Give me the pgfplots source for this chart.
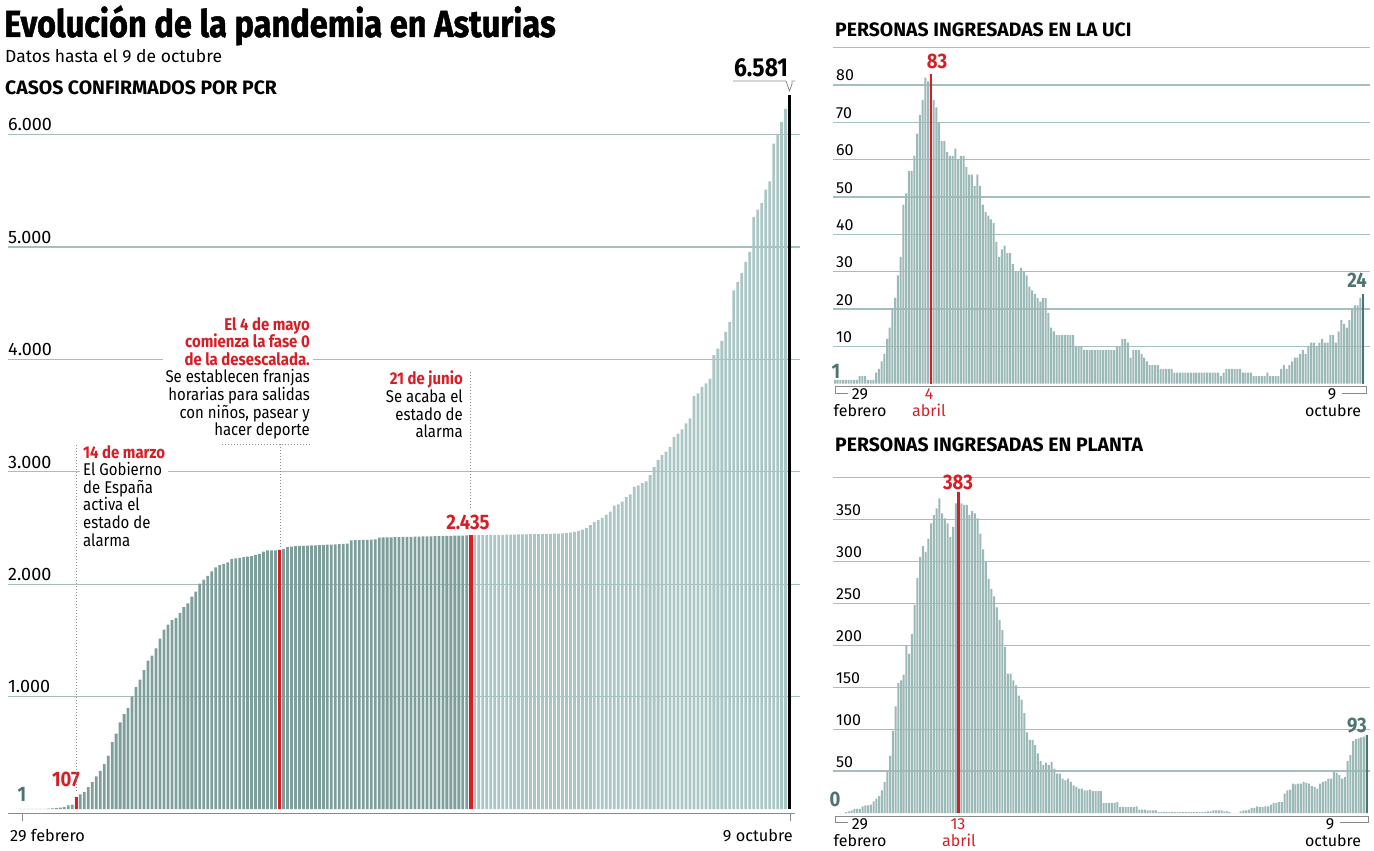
\documentclass[border=0pt]{standalone}
\usepackage{fontspec}
\setmainfont{Fira Sans}
\newfontfamily\cond{Fira Sans}[FakeStretch=0.88]
\newfontfamily\titlefont{Fira Sans}[FakeStretch=0.86, BoldFeatures={FakeBold=1.2}]
\usepackage{pgfplots}
\pgfplotsset{compat=1.18}
\usepackage{pgfplotstable}
\definecolor{bardark}{HTML}{7E9E9B}
\definecolor{barlight}{HTML}{A9C5C4}
\definecolor{barmid}{HTML}{9BB9B7}
\definecolor{gridc}{HTML}{A6BFBD}
\definecolor{rojo}{HTML}{D81E25}
\definecolor{tealtxt}{HTML}{4D7472}
\definecolor{axisc}{HTML}{8A8A8A}

% Casos confirmados (acumulado), una barra por dato publicado
\pgfplotstableread[row sep=\\]{v\\1\\1\\1\\1\\1\\1\\2\\4\\6\\8\\12\\17\\32\\40\\107\\
130\\150\\195\\240\\290\\340\\400\\475\\595\\670\\
770\\845\\900\\1000\\1085\\1150\\1235\\1320\\1365\\1430\\
1515\\1595\\1640\\1680\\1700\\1745\\1795\\1830\\1890\\1935\\
2005\\2040\\2075\\2115\\2150\\2170\\2180\\2195\\2225\\2230\\
2235\\2240\\2245\\2250\\2260\\2270\\2290\\2300\\2300\\2302\\
2306\\
2315\\2330\\2335\\2338\\2340\\2342\\2343\\2345\\2346\\
2348\\2350\\2352\\2353\\2355\\2356\\2358\\2360\\
2390\\2392\\2393\\2394\\2395\\2397\\2398\\
2415\\2416\\2416\\2417\\2418\\2418\\
2420\\2421\\2422\\2423\\2424\\2425\\2426\\2426\\2427\\2428\\2429\\2430\\2431\\2432\\2432\\2433\\2434\\
2435\\
2436\\2437\\2437\\2438\\2438\\2439\\2440\\2440\\2441\\2442\\2442\\2443\\2444\\2444\\2445\\2446\\2446\\2447\\2448\\2448\\2449\\2450\\2452\\
2455\\2460\\2465\\2475\\2485\\2500\\2525\\2555\\2570\\2590\\2620\\2645\\2700\\2710\\2735\\2775\\2800\\2865\\2880\\2900\\
2915\\2970\\3044\\3104\\3148\\3180\\3222\\3311\\3340\\3377\\3430\\3475\\3673\\3697\\3756\\3786\\3830\\4037\\4097\\4164\\
4244\\4333\\4615\\4689\\4769\\4867\\4956\\5267\\5332\\5391\\5510\\5584\\5919\\5999\\6111\\6230\\6348\\}\casos

% Personas en UCI
\pgfplotstableread[row sep=\\]{v\\1\\1\\1\\1\\1\\1\\1\\1\\1\\2\\2\\2\\1\\1\\1\\
3\\4\\6\\8\\12\\15\\20\\23\\29\\34\\48\\51\\57\\57\\61\\67\\72\\76\\82\\81\\83\\
76\\74\\70\\65\\65\\62\\61\\61\\63\\60\\61\\61\\58\\56\\56\\53\\56\\53\\48\\46\\
45\\44\\43\\38\\34\\36\\37\\35\\35\\32\\30\\30\\31\\30\\29\\26\\25\\24\\23\\22\\
23\\23\\19\\15\\14\\13\\
13\\13\\13\\13\\13\\13\\10\\10\\10\\
9\\9\\9\\9\\9\\9\\9\\9\\9\\9\\9\\9\\
10\\10\\12\\12\\11\\7\\9\\9\\9\\8\\7\\6\\5\\5\\5\\5\\
4\\4\\4\\4\\4\\
3\\3\\3\\3\\3\\3\\3\\3\\3\\3\\3\\3\\3\\3\\3\\3\\3\\
2\\3\\4\\4\\4\\4\\4\\4\\3\\3\\3\\3\\2\\2\\2\\2\\2\\3\\2\\2\\2\\2\\
4\\5\\4\\5\\6\\7\\7\\8\\9\\8\\10\\11\\11\\10\\11\\12\\11\\11\\13\\13\\11\\14\\17\\16\\15\\17\\20\\21\\21\\23\\24\\}\uci

% Personas en planta
\pgfplotstableread[row sep=\\]{v\\0\\0\\0\\1\\2\\3\\5\\5\\5\\8\\9\\9\\10\\
14\\17\\20\\27\\37\\50\\68\\
98\\127\\155\\158\\165\\200\\190\\213\\248\\280\\
305\\318\\311\\327\\345\\355\\363\\375\\357\\351\\
345\\329\\341\\369\\383\\369\\367\\367\\355\\360\\
357\\351\\333\\314\\299\\279\\267\\258\\245\\230\\
218\\198\\166\\166\\158\\152\\140\\135\\119\\96\\
87\\87\\81\\71\\62\\57\\60\\57\\61\\53\\
47\\47\\41\\39\\41\\37\\33\\31\\29\\29\\
27\\27\\28\\26\\26\\26\\26\\12\\12\\12\\
12\\12\\13\\7\\7\\7\\7\\7\\7\\8\\
4\\4\\4\\3\\3\\3\\3\\1\\1\\1\\
1\\1\\1\\1\\1\\1\\1\\1\\1\\1\\
1\\1\\1\\1\\1\\2\\2\\3\\3\\3\\
3\\2\\2\\1\\0\\0\\0\\2\\3\\3\\
4\\6\\6\\8\\7\\7\\8\\8\\10\\12\\
12\\13\\13\\23\\27\\28\\35\\34\\35\\35\\
37\\36\\35\\32\\31\\29\\35\\37\\38\\41\\
41\\50\\48\\45\\41\\43\\62\\69\\86\\88\\
89\\90\\91\\93\\}\planta

\pgfplotsset{
  B/.style={bar shift=0pt, draw=none},
  panel/.style={scale only axis, anchor=south west, clip=false,
    axis line style={draw=none}, xtick=\empty, yticklabels={},
    major tick length=0pt, ymajorgrids,
    grid style={gridc, line width=1.1pt}, ybar},
}

\begin{document}
\begin{tikzpicture}
\path[use as bounding box] (0,0) rectangle (1374pt,-851pt);

% ---------- Casos confirmados ----------
\begin{axis}[panel, at={(8pt,-809pt)}, width=792pt, height=730.6pt,
  xmin=-3.137, xmax=195.61, ymin=0, ymax=6500,
  ytick={1000,2000,3000,4000,5000,6000}]
\addplot[B, bar width=2.8pt, fill=bardark, restrict x to domain=-1:112.5] table[x expr=\coordindex, y=v]{\casos};
\addplot[B, bar width=2.8pt, fill=barlight, restrict x to domain=113.5:192.5] table[x expr=\coordindex, y=v]{\casos};
\addplot[B, bar width=3.2pt, fill=black, restrict x to domain=192.5:194] table[x expr=\coordindex, y=v]{\casos};
\addplot[B, bar width=3pt, fill=rojo, restrict x to domain=13.5:14.5] table[x expr=\coordindex, y=v]{\casos};
\addplot[B, bar width=3.4pt, fill=rojo, restrict x to domain=64.5:65.5] table[x expr=\coordindex, y=v]{\casos};
\addplot[B, bar width=3.4pt, fill=rojo, restrict x to domain=112.5:113.5] table[x expr=\coordindex, y=v]{\casos};
\end{axis}

% ---------- UCI ----------
\begin{axis}[panel, at={(833pt,-383.7pt)}, width=537pt, height=336pt,
  xmin=-0.73, xmax=195.5, ymin=0, ymax=90,
  ytick={10,20,...,90}]
\addplot[B, bar width=2.0pt, fill=barmid] table[x expr=\coordindex, y=v]{\uci};
\addplot[B, bar width=2.2pt, fill=tealtxt, restrict x to domain=192.5:194] table[x expr=\coordindex, y=v]{\uci};
\addplot[B, bar width=2.2pt, fill=rojo, restrict x to domain=34.5:35.5] table[x expr=\coordindex, y=v]{\uci};
\end{axis}

% ---------- Planta ----------
\begin{axis}[panel, at={(833pt,-813pt)}, width=537pt, height=335.7pt,
  xmin=-1.82, xmax=194.2, ymin=0, ymax=400,
  ytick={50,100,...,400}]
\addplot[B, bar width=2.0pt, fill=barmid] table[x expr=\coordindex, y=v]{\planta};
\addplot[B, bar width=2.2pt, fill=tealtxt, restrict x to domain=192.5:194] table[x expr=\coordindex, y=v]{\planta};
\addplot[B, bar width=2.2pt, fill=rojo, restrict x to domain=43.5:44.5] table[x expr=\coordindex, y=v]{\planta};
\end{axis}

\begin{scope}[x=1pt, y=1pt, every node/.style={inner sep=0pt}]
% titles
\node[anchor=base west, font=\titlefont\fontsize{37.8}{40}\selectfont\bfseries] at (4,-37) {Evolución de la pandemia en Asturias};
\node[anchor=base west, font=\fontsize{17.5}{20}\selectfont] at (5,-63) {Datos hasta el 9 de octubre};
\node[anchor=base west, font=\fontsize{19.4}{20}\selectfont\bfseries] at (5,-95) {CASOS CONFIRMADOS POR PCR};
\node[anchor=base west, font=\fontsize{19.4}{20}\selectfont\bfseries] at (835,-37) {PERSONAS INGRESADAS EN LA UCI};
\node[anchor=base west, font=\fontsize{19.4}{20}\selectfont\bfseries] at (835,-451) {PERSONAS INGRESADAS EN PLANTA};

% left tick labels
\begin{scope}[every node/.append style={anchor=base west, font=\fontsize{18}{20}\selectfont}]
\node at (8,-130.5) {6.000};
\node at (8,-243) {5.000};
\node at (8,-355.5) {4.000};
\node at (8,-468) {3.000};
\node at (8,-580) {2.000};
\node at (8,-692.5) {1.000};
\end{scope}

% UCI tick labels
\begin{scope}[every node/.append style={anchor=base west, font=\fontsize{16}{18}\selectfont}]
\node at (836,-81) {80};
\node at (836,-118.4) {70};
\node at (836,-155.7) {60};
\node at (836,-193) {50};
\node at (836,-230.4) {40};
\node at (836,-267.7) {30};
\node at (836,-305) {20};
\node at (836,-342.4) {10};
\end{scope}

% Planta tick labels
\begin{scope}[every node/.append style={anchor=base west, font=\fontsize{16}{18}\selectfont}]
\node at (836,-515.3) {350};
\node at (836,-557.3) {300};
\node at (836,-599.2) {250};
\node at (836,-641.2) {200};
\node at (836,-683.1) {150};
\node at (836,-725.1) {100};
\node at (836,-767) {50};
\end{scope}

% left x axis
\draw[axisc, line width=1pt] (8,-813) -- (795,-813);
\draw[axisc, line width=1pt] (22,-813) -- (22,-821);
\draw[axisc, line width=1pt] (790,-813) -- (790,-821);
\node[anchor=base west, font=\fontsize{16.3}{19}\selectfont] at (10,-841) {29 febrero};
\node[anchor=base east, font=\fontsize{16.3}{19}\selectfont] at (793,-841) {9 octubre};

% UCI x axis
\draw[axisc, line width=0.8pt] (835,-386) -- (1366,-386);
\draw[axisc, line width=0.8pt] (835,-386) -- (835,-393) -- (848,-393);
\draw[axisc, line width=0.8pt] (1342,-393) -- (1366,-393) -- (1366,-386);
\begin{scope}[every node/.append style={anchor=base, font=\fontsize{16}{19}\selectfont}]
\node at (860,-399) {29};
\node at (860,-416) {febrero};
\node[text=rojo] at (929,-399) {4};
\node[text=rojo] at (929,-416) {abril};
\node at (1332,-399) {9};
\node at (1333,-416) {octubre};
\end{scope}

% Planta x axis
\draw[axisc, line width=0.8pt] (835,-816) -- (1368,-816);
\draw[axisc, line width=0.8pt] (835,-816) -- (835,-822) -- (848,-822);
\draw[axisc, line width=0.8pt] (1340,-822) -- (1368,-822) -- (1368,-816);
\begin{scope}[every node/.append style={anchor=base, font=\fontsize{16}{19}\selectfont}]
\node at (860,-829) {29};
\node at (860,-846) {febrero};
\node[text=rojo] at (958,-829) {13};
\node[text=rojo] at (959,-846) {abril};
\node at (1330,-829) {9};
\node at (1333,-846) {octubre};
\end{scope}

% value labels
\begin{scope}[every node/.append style={anchor=base, font=\cond\fontsize{21}{22}\selectfont\bfseries}]
\node[text=tealtxt] at (22,-801) {1};
\node[text=rojo] at (66,-786) {107};
\node[text=rojo] at (468,-529) {2.435};
\node[text=rojo] at (937,-69) {83};
\node[text=tealtxt] at (1357,-287) {24};
\node[text=tealtxt] at (836,-378) {1};
\node[text=rojo] at (958,-489) {383};
\node[text=tealtxt] at (835,-806) {0};
\node[text=tealtxt] at (1357,-732) {93};
\end{scope}
\node[anchor=base, font=\cond\fontsize{26}{27}\selectfont\bfseries] at (761,-77) {6.581};
\draw[axisc, line width=0.8pt] (733,-81) -- (786,-81) -- (789.5,-91) -- (792,-84) -- (792,-81) -- (795,-81);

% dotted leaders
\draw[axisc, dotted, line width=1pt] (76,-445) -- (76,-792);
\draw[axisc, dotted, line width=1pt] (222,-444) -- (310,-444);
\draw[axisc, dotted, line width=1pt] (280,-444) -- (280,-548);
\draw[axisc, dotted, line width=1pt] (470,-372) -- (470,-508);

% annotations
\node[anchor=north west, align=left, fill=white, inner xsep=3pt, inner ysep=2pt,
  font=\cond\fontsize{17}{17.6}\selectfont] at (80,-443)
  {\textcolor{rojo}{\bfseries 14 de marzo}\\El Gobierno\\de España\\activa el\\estado de\\alarma};
\node[anchor=north east, align=right, fill=white, inner xsep=3pt, inner ysep=2pt,
  font=\cond\fontsize{17}{17.6}\selectfont] at (313,-315)
  {\textcolor{rojo}{\bfseries El 4 de mayo}\\\textcolor{rojo}{\bfseries comienza la fase 0}\\\textcolor{rojo}{\bfseries de la desescalada.}\\Se establecen franjas\\horarias para salidas\\con niños, pasear y\\hacer deporte};
\node[anchor=north east, align=right, fill=white, inner xsep=3pt, inner ysep=2pt,
  font=\cond\fontsize{17}{17.6}\selectfont] at (466,-369)
  {\textcolor{rojo}{\bfseries 21 de junio}\\Se acaba el\\estado de\\alarma};
\end{scope}
\end{tikzpicture}
\end{document}
